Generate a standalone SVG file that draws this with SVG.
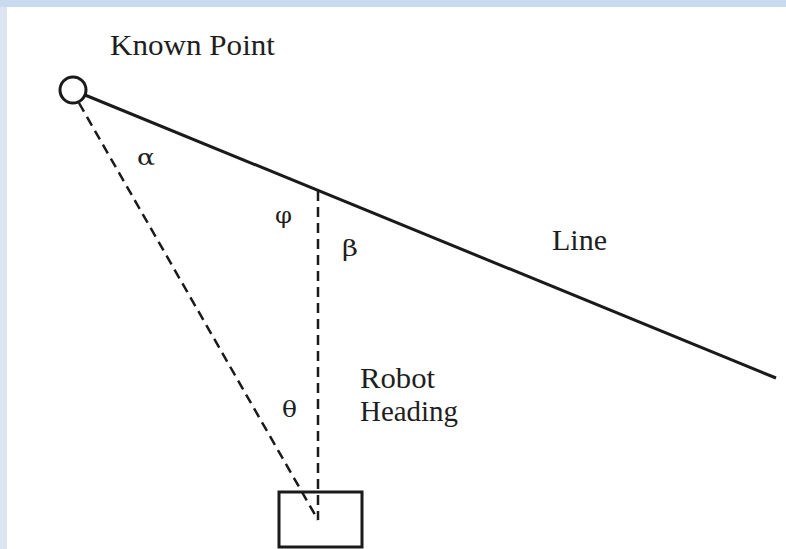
<svg xmlns="http://www.w3.org/2000/svg" width="786" height="549" viewBox="0 0 786 549">
<style>
.t{font-family:"Liberation Serif","Times New Roman",serif;fill:#1e1e1e;font-size:29px}
.g{font-family:"DejaVu Serif","Liberation Serif",serif;fill:#1e1e1e;font-size:23px}
.solid{stroke:#1a1a1a;stroke-width:3;fill:none}
.dash{stroke:#1a1a1a;stroke-width:2.5;fill:none;stroke-dasharray:10 6}
</style>
<rect x="0" y="0" width="786" height="549" fill="#ffffff"/>
<rect x="0" y="0" width="786" height="7" fill="#c9daf0"/>
<rect x="0" y="7" width="7" height="542" fill="#dce4f2"/>
<g id="connectors">
<line class="solid" x1="85" y1="95" x2="776" y2="378"/>
<line class="dash" x1="318" y1="191" x2="318" y2="520"/>
<line class="dash" x1="79" y1="103" x2="318" y2="520"/>
</g>
<g id="known-point">
<circle cx="73" cy="90" r="13" fill="#fff" stroke="#1a1a1a" stroke-width="3"/>
<text class="t" x="110" y="55" textLength="165" lengthAdjust="spacingAndGlyphs">Known Point</text>
</g>
<g id="robot">
<rect x="279" y="492" width="83" height="55" fill="none" stroke="#1a1a1a" stroke-width="3"/>
</g>
<g id="labels">
<text class="g" x="137" y="165" textLength="18" lengthAdjust="spacingAndGlyphs">α</text>
<text class="g" x="275" y="223" textLength="17" lengthAdjust="spacingAndGlyphs">φ</text>
<text class="g" x="342" y="256" textLength="16" lengthAdjust="spacingAndGlyphs">β</text>
<text class="g" x="282" y="417" textLength="15" lengthAdjust="spacingAndGlyphs">θ</text>
<text class="t" x="552" y="250" textLength="55" lengthAdjust="spacingAndGlyphs">Line</text>
<text class="t" x="360" y="388" textLength="75" lengthAdjust="spacingAndGlyphs">Robot</text>
<text class="t" x="360" y="421" textLength="98" lengthAdjust="spacingAndGlyphs">Heading</text>
</g>
</svg>
